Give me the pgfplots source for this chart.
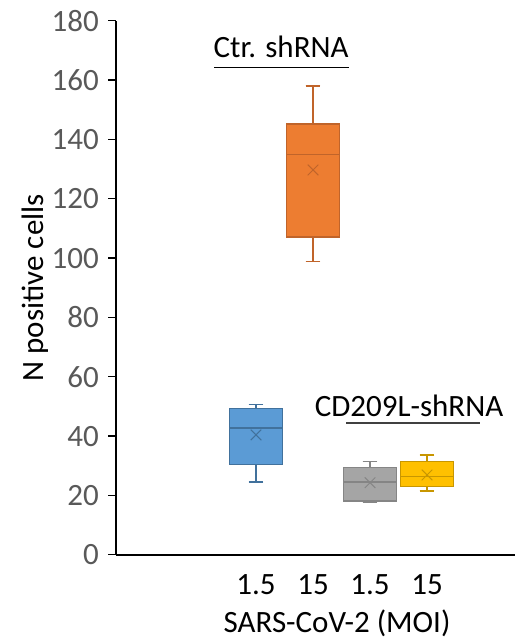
\documentclass[border=0pt]{standalone}
\usepackage{fontspec}
\setmainfont{Carlito}
\usepackage{pgfplots}
\pgfplotsset{compat=1.18}
\usepgfplotslibrary{statistics}
\usetikzlibrary{calc}

\definecolor{xblue}{HTML}{5B9BD5}
\definecolor{xblueD}{HTML}{41719C}
\definecolor{xorange}{HTML}{ED7D31}
\definecolor{xorangeD}{HTML}{C0642A}
\definecolor{xgray}{HTML}{A5A5A5}
\definecolor{xgrayD}{HTML}{858585}
\definecolor{xgold}{HTML}{FFC000}
\definecolor{xgoldD}{HTML}{C89600}
\definecolor{ticktxt}{HTML}{595959}

\newcommand{\bigfont}{\fontsize{31bp}{36bp}\selectfont}

\begin{document}
\begin{tikzpicture}
\bigfont
\begin{axis}[
    name=ax,
    scale only axis,
    width=399bp, height=534bp,
    xmin=-1.456, xmax=5.544,
    ymin=0, ymax=180,
    axis x line=bottom, axis y line=left,
    axis line style={-, black, line width=1.6bp},
    xtick={1,2,3,4},
    xticklabels={1.5,15,1.5,15},
    xtick style={draw=none},
    ytick={0,20,...,180},
    ytick style={black, line width=1.3bp},
    tick align=outside,
    major tick length=8bp,
    /pgf/number format/assume math mode=true,
    xticklabel style={anchor=center, yshift=-22bp, text=black, font=\bigfont},
    yticklabel style={anchor=east, inner sep=0pt, xshift=-9bp, text=ticktxt, font=\bigfont},
    xlabel={SARS-CoV-2 (MOI)},
    ylabel={N positive cells},
    xlabel style={at={(axis description cs:0.554,-0.128)}, anchor=center, font=\bigfont},
    ylabel style={at={(axis description cs:-0.203,0.5)}, anchor=center, rotate=0, font=\bigfont},
    boxplot/draw direction=y,
    clip=false,
]
\addplot[boxplot prepared={draw position=1, lower whisker=24.5, lower quartile=30.5,
    median=42.7, upper quartile=49.2, upper whisker=50.6,
    box extend=0.93, whisker extend=0.26},
    fill=xblue, draw=xblueD, line width=1.2bp] coordinates {};
\addplot[boxplot prepared={draw position=2, lower whisker=98.9, lower quartile=107.1,
    median=135.0, upper quartile=145.2, upper whisker=158.0,
    box extend=0.93, whisker extend=0.26},
    fill=xorange, draw=xorangeD, line width=1.2bp] coordinates {};
\addplot[boxplot prepared={draw position=3, lower whisker=17.6, lower quartile=18.1,
    median=24.5, upper quartile=29.5, upper whisker=31.5,
    box extend=0.93, whisker extend=0.26},
    fill=xgray, draw=xgrayD, line width=1.2bp] coordinates {};
\addplot[boxplot prepared={draw position=4, lower whisker=21.5, lower quartile=23.0,
    median=26.3, upper quartile=31.4, upper whisker=33.6,
    box extend=0.93, whisker extend=0.26},
    fill=xgold, draw=xgoldD, line width=1.2bp] coordinates {};

% means
\addplot[only marks, mark=x, mark size=7.5bp, draw=xblueD, line width=1bp] coordinates {(1,40.4)};
\addplot[only marks, mark=x, mark size=7.5bp, draw=xorangeD, line width=1bp] coordinates {(2,129.7)};
\addplot[only marks, mark=x, mark size=7.5bp, draw=xgrayD, line width=1bp] coordinates {(3,24.3)};
\addplot[only marks, mark=x, mark size=7.5bp, draw=xgoldD, line width=1bp] coordinates {(4,26.9)};

% group annotations
\node[anchor=base] at (axis cs:1.44,167.7) {Ctr. shRNA};
\draw[black, line width=1.3bp] (axis cs:0.263,164.2) -- (axis cs:2.63,164.2);
\node[anchor=base] at (axis cs:3.684,46.5) {CD209L-shRNA};
\draw[black!75, line width=1.3bp] (axis cs:2.58,44.4) -- (axis cs:4.93,44.4);
\end{axis}
\pgfresetboundingbox
\path ($(ax.south west)+(-116bp,-84.2bp)$) rectangle ($(ax.north east)+(0,20.7bp)$);
\end{tikzpicture}
\end{document}
